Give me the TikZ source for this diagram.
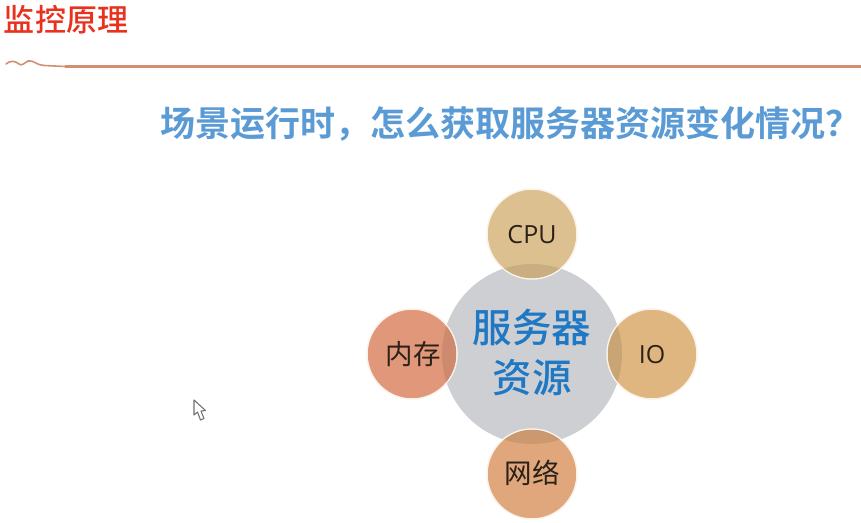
\documentclass[tikz,border=0pt]{standalone}
\usepackage{fontspec}
\newfontfamily\cjk{Noto Sans CJK SC}
\newfontfamily\cjkm{Noto Sans CJK SC Medium}
\newfontfamily\cjkb{Noto Sans CJK SC Bold}
\newfontfamily\lat{Open Sans}
\definecolor{titlered}{HTML}{E8321E}
\definecolor{rulecol}{HTML}{D28F72}
\definecolor{headblue}{HTML}{5B9BD5}
\definecolor{coreblue}{HTML}{1F78C4}
\definecolor{coregray}{HTML}{CDCFD3}
\definecolor{cpucol}{HTML}{DCC08F}
\definecolor{cpulens}{HTML}{C9AE82}
\definecolor{iocol}{HTML}{DFB67F}
\definecolor{iolens}{HTML}{C9A474}
\definecolor{memcol}{HTML}{E1977A}
\definecolor{memlens}{HTML}{CD8A6E}
\definecolor{netcol}{HTML}{E0A67C}
\definecolor{netlens}{HTML}{CB9870}
\definecolor{ringcol}{HTML}{FBF3EA}
\definecolor{txtdark}{HTML}{2B2118}
\tikzset{
  every node/.style={inner sep=0pt,outer sep=0pt},
  sat/.style={circle,minimum size=90pt,draw=ringcol,line width=1.5pt,align=center},
  satcjk/.style={text=txtdark,font=\cjk\fontsize{27.5}{30}\selectfont},
  satlat/.style={text=txtdark,font=\lat\fontsize{25}{28}\selectfont},
}
\begin{document}
\begin{tikzpicture}[x=1pt,y=-1pt]
\useasboundingbox (0,0) rectangle (861,522);
\fill[white] (0,0) rectangle (861,522);
% title
\node[anchor=west,text=titlered,font=\cjkm\fontsize{31}{34}\selectfont] (title) at (4,19.5) {监控原理};
% rule with squiggle
\coordinate (ruleL) at (65,66.5);
\coordinate (ruleR) at (861,66.5);
\draw[rulecol,line width=2.4pt] (ruleL) -- (ruleR);
\draw[rulecol,line width=1.6pt,line cap=round] (6,64) .. controls (10,60.5) and (15,60.5) .. (19,64)
  .. controls (22,66.5) and (24,63) .. (28,61) .. controls (33,59.5) and (37,65.5) .. (44,65.5) -- (ruleL);
% heading
\node[anchor=west,text=headblue,font=\cjkb\fontsize{35}{38}\selectfont] (head) at (160.5,123.5) {场景运行时^^^^ff0c怎么获取服务器资源变化情况^^^^ff1f};
% core
\fill[coregray] (532,354) circle (90);
% satellites
\node[sat,fill=cpucol] (cpu) at (532,234) {};
\node[sat,fill=iocol] (io) at (652,354) {};
\node[sat,fill=memcol] (mem) at (412,354) {};
\node[sat,fill=netcol] (net) at (532,474) {};
% lenses
\begin{scope}\clip (532,354) circle (90);
\fill[cpulens] (cpu.center) circle (44.2);
\fill[iolens] (io.center) circle (44.2);
\fill[memlens] (mem.center) circle (44.2);
\fill[netlens] (net.center) circle (44.2);
\end{scope}
\node[satlat] (cpulabel) at (532,235) {CPU};
\node[satlat] (iolabel) at (652,355) {IO};
\node[satcjk] (memlabel) at (413,354) {内存};
\node[satcjk] (netlabel) at (532,473) {网络};
\node[text=coreblue,align=center,font=\cjkm\fontsize{39.5}{50}\selectfont] (core) at (532,353) {服务器\\资源};
% mouse pointer
\draw[fill=white,draw=black!55,line width=1.1pt,line join=round] (194,400) -- (194,415) -- (197.5,412) -- (200.5,420) -- (204,418.5) -- (201,411) -- (205.5,410.5) -- cycle;
\end{tikzpicture}
\end{document}
